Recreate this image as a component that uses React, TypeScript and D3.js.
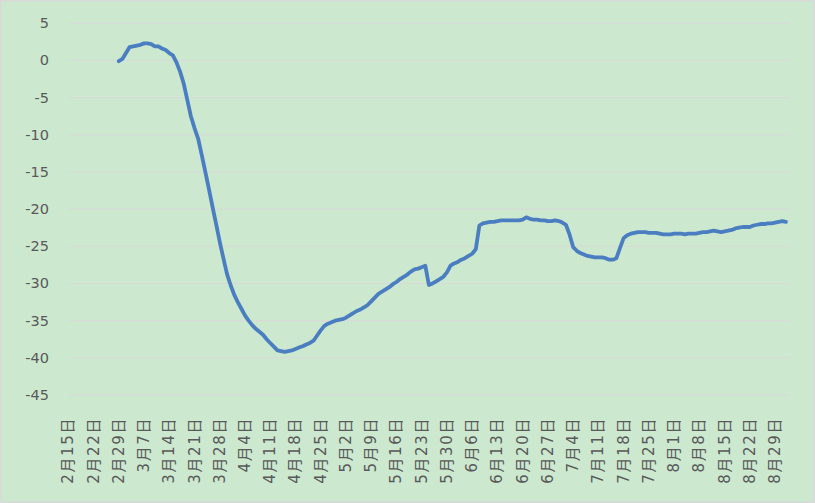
import React from "react";
import * as d3 from "d3";

// ---- Data ----
const seriesStart = "2020-02-29";
const seriesValues: number[] = [
  -0.1, 0.2, 1.0, 1.8, 1.9, 2.0, 2.1, 2.3, 2.3, 2.2, 1.9, 1.9, 1.6, 1.4, 1.0,
  0.7, -0.25, -1.5, -3.1, -5.3, -7.5, -9.1, -10.5, -12.7, -15.0, -17.3, -19.7, -22.0, -24.4, -26.6,
  -28.7, -30.2, -31.5, -32.5, -33.4, -34.3, -35.0, -35.6, -36.1, -36.5, -36.9, -37.5, -38.0, -38.5, -39.0,
  -39.1, -39.2, -39.1, -39.0, -38.8, -38.6, -38.45, -38.2, -38.0, -37.7, -37.0, -36.3, -35.7, -35.4, -35.2,
  -35.0, -34.9, -34.8, -34.6, -34.3, -34.0, -33.7, -33.5, -33.2, -32.9, -32.4, -31.9, -31.4, -31.1, -30.8,
  -30.5, -30.1, -29.8, -29.4, -29.1, -28.8, -28.4, -28.1, -28.0, -27.8, -27.6, -30.2, -30.0, -29.7, -29.4,
  -29.1, -28.5, -27.6, -27.3, -27.1, -26.8, -26.6, -26.3, -26.0, -25.4, -22.2, -21.9, -21.8, -21.7, -21.7,
  -21.6, -21.5, -21.5, -21.5, -21.5, -21.5, -21.5, -21.4, -21.1, -21.3, -21.4, -21.4, -21.5, -21.5, -21.6,
  -21.6, -21.5, -21.6, -21.8, -22.1, -23.4, -25.1, -25.6, -25.9, -26.1, -26.3, -26.4, -26.5, -26.5, -26.5,
  -26.6, -26.8, -26.8, -26.6, -25.2, -23.9, -23.5, -23.3, -23.2, -23.1, -23.1, -23.1, -23.2, -23.2, -23.2,
  -23.3, -23.4, -23.4, -23.4, -23.3, -23.3, -23.3, -23.4, -23.3, -23.3, -23.3, -23.2, -23.1, -23.1, -23.0,
  -22.9, -23.0, -23.1, -23.0, -22.9, -22.8, -22.6, -22.5, -22.4, -22.4, -22.4, -22.2, -22.1, -22.0, -22.0,
  -21.9, -21.9, -21.8, -21.7, -21.6, -21.7,
];

const axisStart = "2020-02-15";
const tickLabels: string[] = [
  "2月15日", "2月22日", "2月29日", "3月7日", "3月14日", "3月21日", "3月28日",
  "4月4日", "4月11日", "4月18日", "4月25日", "5月2日", "5月9日", "5月16日",
  "5月23日", "5月30日", "6月6日", "6月13日", "6月20日", "6月27日", "7月4日",
  "7月11日", "7月18日", "7月25日", "8月1日", "8月8日", "8月15日", "8月22日", "8月29日",
];
const yTicks: number[] = [5, 0, -5, -10, -15, -20, -25, -30, -35, -40, -45];

// ---- Layout ----
const W = 815;
const H = 503;
const plotLeft = 68.3;
const plotRight = 789.5;
const plotTop = 23.3;
const plotBottom = 395;
const axisDays = 200;

export default function App() {
  const t0 = new Date(axisStart + "T00:00:00Z");
  const s0 = new Date(seriesStart + "T00:00:00Z");
  const x = d3
    .scaleUtc()
    .domain([t0, d3.utcDay.offset(t0, axisDays)])
    .range([plotLeft, plotRight]);
  const y = d3.scaleLinear().domain([5, -45]).range([plotTop, plotBottom]);

  const data = seriesValues.map((v, i) => ({ date: d3.utcDay.offset(s0, i), value: v }));
  const line = d3
    .line<{ date: Date; value: number }>()
    .x((d) => x(d.date))
    .y((d) => y(d.value));

  const tickDates = tickLabels.map((_, i) => d3.utcDay.offset(t0, i * 7));

  const font = "'DejaVu Sans', 'Noto Sans CJK SC', sans-serif";

  return (
    <svg
      width={W}
      height={H}
      style={{ position: "absolute", left: 0, top: 0, display: "block" }}
    >
      <rect x={0} y={0} width={W} height={H} fill="#d9d9d9" />
      <rect x={1.5} y={1.5} width={811.5} height={500} fill="#CCE8CF" />
      {yTicks.map((t) => (
        <g key={t}>
          <line
            x1={plotLeft}
            x2={plotRight}
            y1={y(t)}
            y2={y(t)}
            stroke="#d9d9d9"
            strokeWidth={1}
          />
          <text
            x={49}
            y={y(t)}
            textAnchor="end"
            dominantBaseline="central"
            fontFamily={font}
            fontSize={14.5}
            fill="#595959"
          >
            {t}
          </text>
        </g>
      ))}
      {tickLabels.map((lab, i) => {
        const px = x(tickDates[i]);
        return (
          <text
            key={lab}
            transform={`translate(${px},417) rotate(-90)`}
            textAnchor="end"
            dominantBaseline="central"
            fontFamily={font}
            fontSize={15}
            letterSpacing={1.6}
            fill="#595959"
          >
            {lab}
          </text>
        );
      })}
      <path
        d={line(data) || ""}
        fill="none"
        stroke="#4A7EC1"
        strokeWidth={3.8}
        strokeLinejoin="round"
        strokeLinecap="round"
      />
    </svg>
  );
}
